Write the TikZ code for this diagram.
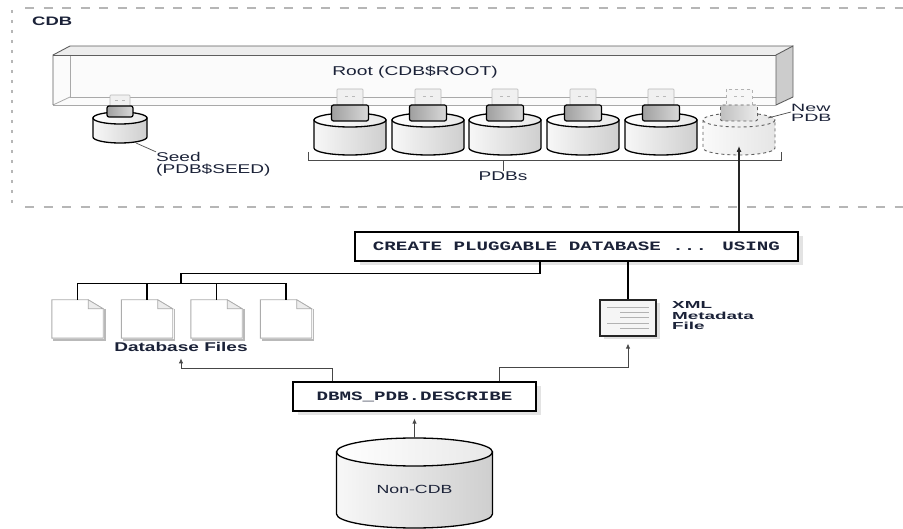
\documentclass[tikz,border=0pt]{standalone}
\usepackage{fontspec}
\setmainfont{Liberation Sans}
\newfontfamily\labfont[FakeStretch=1.5]{Liberation Sans}
\newfontfamily\widefont[FakeStretch=1.85]{Liberation Sans}
\newfontfamily\codefont[FakeStretch=1.5]{Liberation Mono}
\usetikzlibrary{arrows.meta,shadows}

\definecolor{ink}{HTML}{1B2238}
\definecolor{framegray}{HTML}{B6B6B6}
\definecolor{edgedark}{HTML}{5E5E5E}
\definecolor{edgelight}{HTML}{A9A9A9}

% cylinder: [style] cx, y of top ellipse centre, rx, ry, height
\newcommand\dbcyl[6][]{%
  \path[cylbody,#1] ({#2-#4},#3) -- ({#2-#4},{#3+#6})
    arc[start angle=180,end angle=0,x radius=#4,y radius=#5]
    -- ({#2+#4},#3) -- cycle;
  \path[cyltop,#1] (#2,#3) ellipse[x radius=#4,y radius=#5];
}
% plug: cx, top y, metal half width, body half width, part height
\newcommand\usbplug[5]{%
  \path[plugmetal] ({#1-#3},#2) rectangle ({#1+#3},{#2+#5});
  \draw[plugmark] ({#1-5},{#2+#5*0.45}) -- ++(3,0) ({#1+2},{#2+#5*0.45}) -- ++(3,0);
  \path[plugbody] ({#1-#4},{#2+#5}) rectangle ({#1+#4},{#2+2*#5});
}

\tikzset{
  lab/.style={inner sep=0pt, text=ink, font=\labfont\fontsize{12.7}{12}\selectfont},
  labb/.style={lab, font=\labfont\bfseries\fontsize{12.7}{10.5}\selectfont},
  cylbody/.style={draw=black, line width=1.3pt, left color=gray!6, right color=gray!38},
  cyltop/.style={draw=black, line width=1.3pt, left color=white, right color=gray!18},
  ghost/.style={draw=edgedark, dashed, line width=0.9pt, left color=gray!4, right color=gray!20},
  plugmetal/.style={draw=gray!55, line width=0.6pt, fill=gray!12, rounded corners=0.8pt},
  plugbody/.style={draw=black, line width=1.2pt, left color=gray!75, right color=gray!30, rounded corners=2pt},
  plugghostbody/.style={draw=edgedark, dashed, line width=0.9pt, left color=gray!50, right color=gray!15, rounded corners=2pt},
  plugghostmetal/.style={draw=gray!60, dashed, line width=0.6pt, fill=gray!6},
  plugmark/.style={draw=gray!55, line width=0.7pt},
  codebox/.style={draw=black, line width=1.3pt, fill=white, inner sep=0pt,
    minimum height=29pt, text=ink, font=\codefont\bfseries\fontsize{12.8}{14}\selectfont,
    general shadow={fill=gray!22, shadow xshift=4.5pt, shadow yshift=-4.5pt}},
  pagenode/.style={minimum width=51pt, minimum height=38pt, inner sep=0pt},
  pagebody/.style={draw=gray!65, line width=0.9pt, fill=white},
  pageear/.style={draw=gray!65, line width=0.7pt, fill=gray!15},
  pageshade/.style={draw=gray!55, line width=1.6pt},
  tree/.style={draw=black, line width=1.3pt},
  thinarrow/.style={draw=gray!55!black, line width=0.8pt, -{Latex[length=5pt,width=4.5pt]}},
  uparrow/.style={draw=black!85, line width=1.1pt, -{Latex[length=6pt,width=5pt]}},
  leader/.style={draw=gray!60!black, line width=0.7pt},
  framedash/.style={draw=framegray, line width=2.6pt, dash pattern=on 9pt off 9.5pt},
  framedot/.style={draw=framegray, line width=2.6pt, dash pattern=on 2.7pt off 7.3pt},
}

\begin{document}
\begin{tikzpicture}[x=1pt,y=-1pt]
\useasboundingbox (0,0) rectangle (903,529);

% ---- CDB container -------------------------------------------------
\draw[framedash] (25,8) -- (903,8);
\draw[framedash] (25,207) -- (903,207);
\draw[framedot] (12,10) -- (12,208);
\node[labb, anchor=west, font=\labfont\bfseries\fontsize{12.3}{14}\selectfont] (cdb) at (32,21) {CDB};

% ---- root container (open box) --------------------------------------
\fill[gray!3] (53,55) rectangle (776,105);
\fill[gray!14] (53,55) -- (70,46) -- (793,46) -- (776,55) -- cycle;
\draw[edgelight, line width=0.8pt] (70,55) -- (70,97) -- (793,97);
\draw[edgelight, line width=0.8pt] (53,105) -- (70,97);
\filldraw[fill=gray!40, draw=edgedark, line width=0.9pt] (776,55) -- (793,46) -- (793,97) -- (776,105) -- cycle;
\draw[edgedark, line width=0.9pt] (53,105) -- (53,55) -- (70,46) -- (793,46);
\draw[edgedark, line width=0.9pt] (53,55) -- (776,55);
\draw[edgelight, line width=0.9pt] (53,105) -- (776,105);
\node[lab, font=\labfont\fontsize{12.8}{14}\selectfont] (rootlbl) at (415,72) {Root (CDB\$ROOT)};

% ---- seed -----------------------------------------------------------
\dbcyl{120}{118}{27}{6}{19}
\usbplug{120}{95}{10}{13}{11}
\coordinate (seedfoot) at (136,143);
\node[lab, anchor=west, align=left] (seedlbl) at (156,164) {Seed\\(PDB\$SEED)};
\draw[leader] (seedfoot) -- (seedlbl.north west);

% ---- plugged-in PDBs --------------------------------------------------
\foreach \cx in {350,428,505,583,661}{
  \dbcyl{\cx}{120}{36}{7}{28}
  \usbplug{\cx}{89}{13}{18.5}{16}
}
% new PDB (being created)
\dbcyl[ghost]{739}{120}{36}{7}{28}
\path[plugghostmetal] (726,89) rectangle (752,105);
\draw[plugmark] (734,96) -- ++(3,0) (741,96) -- ++(3,0);
\path[plugghostbody] (720.5,105) rectangle (757.5,121);
\coordinate (newpdb) at (739,146);
\coordinate (newrim) at (768,118);
\node[lab, anchor=west, align=left, font=\widefont\fontsize{10.6}{10.5}\selectfont] (newlbl) at (791,113) {New\\PDB};
\draw[leader] (newrim) -- ([yshift=1pt]newlbl.west);

% bracket grouping the PDBs
\draw[leader, line width=0.9pt] (308,152) -- (308,160) -- (781,160) -- (781,152);
\node[lab] (pdbs) at (503,176) {PDBs};
\draw[leader, line width=0.9pt] (503,160) -- (pdbs.north);

% ---- plug-in statement ------------------------------------------------
\node[codebox, minimum width=443pt] (create) at (576.5,246.5) {CREATE PLUGGABLE DATABASE ... USING};
\draw[uparrow] (newpdb |- create.north) -- (newpdb);

% database files
\foreach \n/\x in {f1/77.5,f2/147,f3/216.5,f4/286}{
  \node[pagenode] (\n) at (\x,319) {};
  \draw[pageshade] ([shift={(1.6pt,-9pt)}]\n.north east) -- ([shift={(1.6pt,-1.6pt)}]\n.south east) -- ([shift={(1.6pt,-1.6pt)}]\n.south west);
  \path[pagebody] (\n.north west) -- ([xshift=-15pt]\n.north east) -- ([yshift=-9pt]\n.north east)
    -- (\n.south east) -- (\n.south west) -- cycle;
  \path[pageear] ([xshift=-15pt]\n.north east) -- ([xshift=-15pt,yshift=-9pt]\n.north east) -- ([yshift=-9pt]\n.north east) -- cycle;
}
\node[labb] (dbfiles) at (181,347) {Database Files};
\coordinate (busjoin) at (181,284);
\draw[tree] (f1.north) -- ++(0,-16) -| (f4.north);
\draw[tree] (f2.north) -- ++(0,-16);
\draw[tree] (f3.north) -- ++(0,-16);
\draw[tree] ([xshift=-36.5pt]create.south) -- ++(0,12) -| (busjoin);

% XML metadata file
\node[minimum width=56pt, minimum height=36pt, inner sep=0pt, draw=black!85, line width=1.2pt,
  fill=gray!8, general shadow={fill=gray!25, shadow xshift=3.5pt, shadow yshift=-3.5pt}] (xml) at (628,318) {};
\draw[gray!60, line width=0.8pt]
  (607,307) -- (649,307) (620,312.5) -- (649,312.5) (620,317.5) -- (649,317.5)
  (607,323) -- (649,323) (620,328.5) -- (649,328.5);
\draw[tree] (xml.north |- create.south) -- (xml.north);
\node[lab, anchor=west, align=left, font=\widefont\bfseries\fontsize{10.2}{10.5}\selectfont] (xmllbl) at (672,316) {XML\\Metadata\\File};

% ---- describe step ------------------------------------------------------
\node[codebox, minimum width=243pt] (dbms) at (414.5,396.5) {DBMS\_PDB.DESCRIBE};
\draw[thinarrow] ([xshift=-82.5pt]dbms.north) -- ++(0,-13) -| ([yshift=-6.5pt]dbfiles.south);
\draw[thinarrow] ([xshift=84.5pt]dbms.north) -- ++(0,-14) -| ([yshift=-7pt]xml.south);

% ---- source non-CDB -------------------------------------------------------
\dbcyl{414.5}{452}{78}{14}{62}
\coordinate (noncdbtop) at (414.5,438);
\node[lab, font=\labfont\fontsize{11.8}{14}\selectfont] (noncdb) at (414.5,489) {Non-CDB};
\draw[thinarrow] (noncdbtop) -- ([yshift=-7pt]noncdbtop |- dbms.south);

\end{tikzpicture}
\end{document}
